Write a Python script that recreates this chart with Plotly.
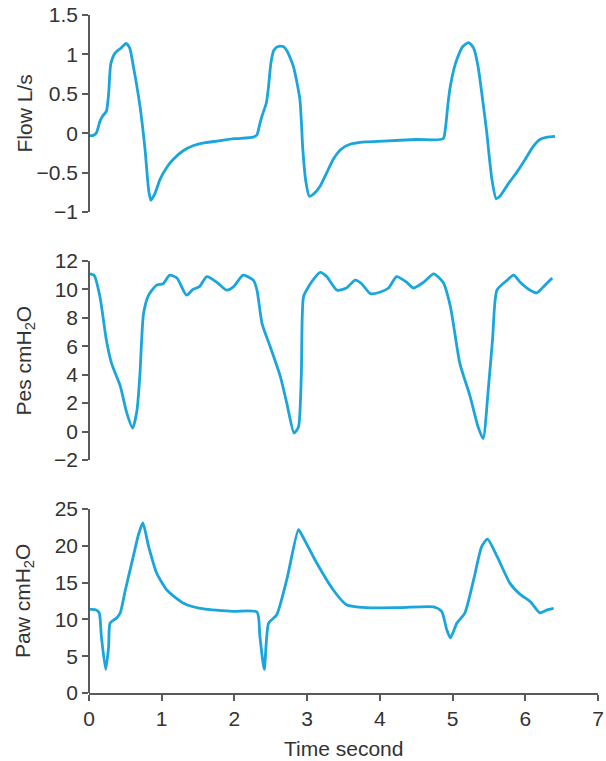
import plotly.graph_objects as go

# ---- data ----
flow_t = [0.00, 0.05, 0.10, 0.15, 0.19, 0.24, 0.27, 0.30, 0.36, 0.44, 0.51, 0.56, 0.61, 0.70, 0.77, 0.82, 0.85, 0.90,
          0.98, 1.08, 1.16, 1.30, 1.43, 1.60, 1.76, 2.00, 2.26, 2.31, 2.35, 2.38, 2.44, 2.47, 2.50, 2.54, 2.60, 2.67,
          2.72, 2.81, 2.90, 2.94, 2.98, 3.03, 3.09, 3.18, 3.27, 3.36, 3.47, 3.59, 3.80, 4.05, 4.50, 4.87, 4.90, 4.94,
          4.97, 5.02, 5.06, 5.14, 5.22, 5.29, 5.35, 5.41, 5.47, 5.54, 5.60, 5.65, 5.76, 5.88, 6.00, 6.10, 6.20, 6.30, 6.41]
flow_v = [-0.03, -0.03, 0.00, 0.15, 0.22, 0.28, 0.50, 0.88, 1.02, 1.08, 1.14, 1.08, 0.85, 0.35, -0.20, -0.72, -0.85, -0.78,
          -0.58, -0.42, -0.33, -0.22, -0.16, -0.12, -0.10, -0.07, -0.05, -0.02, 0.12, 0.22, 0.39, 0.60, 0.88, 1.05, 1.10, 1.10,
          1.05, 0.85, 0.43, -0.20, -0.60, -0.80, -0.77, -0.67, -0.50, -0.33, -0.20, -0.14, -0.11, -0.10, -0.08, -0.07, 0.05, 0.40,
          0.60, 0.82, 0.94, 1.10, 1.15, 1.08, 0.85, 0.45, 0.01, -0.58, -0.83, -0.80, -0.65, -0.50, -0.33, -0.18, -0.08, -0.05, -0.04]

pes_t = [0.00, 0.07, 0.15, 0.24, 0.31, 0.43, 0.52, 0.60, 0.66, 0.70, 0.75, 0.82, 0.93, 1.02, 1.11, 1.21, 1.34, 1.43, 1.52,
         1.62, 1.76, 1.89, 1.99, 2.12, 2.26, 2.31, 2.38, 2.49, 2.63, 2.72, 2.82, 2.88, 2.92, 2.95, 3.02, 3.10, 3.18, 3.27,
         3.41, 3.54, 3.66, 3.75, 3.87, 4.00, 4.12, 4.23, 4.37, 4.46, 4.60, 4.74, 4.87, 4.97, 5.10, 5.24, 5.35, 5.42, 5.49,
         5.55, 5.61, 5.75, 5.84, 5.93, 6.05, 6.16, 6.27, 6.37]
pes_v = [11.1, 11.0, 9.5, 6.4, 4.8, 3.2, 1.3, 0.25, 1.5, 4.0, 8.3, 9.6, 10.3, 10.4, 11.0, 10.8, 9.6, 10.0, 10.2,
         10.9, 10.5, 9.95, 10.2, 11.0, 10.65, 9.95, 7.6, 6.0, 3.9, 2.0, -0.1, 0.3, 4.0, 9.5, 10.2, 10.8, 11.2, 10.9,
         9.95, 10.1, 10.65, 10.4, 9.7, 9.8, 10.1, 10.9, 10.5, 10.1, 10.5, 11.1, 10.5, 8.8, 4.8, 2.5, 0.35, -0.5, 2.9,
         6.5, 9.95, 10.65, 11.0, 10.5, 10.0, 9.76, 10.3, 10.8]

paw_t = [0.00, 0.09, 0.14, 0.17, 0.23, 0.27, 0.29, 0.38, 0.43, 0.50, 0.61, 0.68, 0.74, 0.82, 0.93, 1.07, 1.30, 1.53, 1.98,
         2.31, 2.35, 2.41, 2.47, 2.58, 2.72, 2.88, 2.92, 3.13, 3.36, 3.54, 3.82, 4.28, 4.74, 4.85, 4.92, 4.97, 5.06, 5.17,
         5.29, 5.40, 5.48, 5.61, 5.79, 5.93, 6.07, 6.20, 6.30, 6.39]
paw_v = [11.4, 11.3, 10.9, 7.7, 3.2, 6.3, 9.5, 10.2, 10.9, 14.0, 18.6, 21.5, 23.1, 19.9, 16.3, 14.0, 12.2, 11.5, 11.1,
         11.0, 7.7, 3.2, 9.5, 10.6, 15.4, 22.2, 21.6, 17.7, 14.0, 12.0, 11.6, 11.6, 11.7, 11.1, 8.6, 7.5, 9.5, 10.9,
         15.4, 19.9, 20.9, 18.6, 14.9, 13.4, 12.4, 10.9, 11.3, 11.5]

x_ticks = [0, 1, 2, 3, 4, 5, 6, 7]
flow_ticks = [-1, -0.5, 0, 0.5, 1, 1.5]
flow_tick_text = ["\u22121", "\u22120.5", "0", "0.5", "1", "1.5"]
pes_ticks = [-2, 0, 2, 4, 6, 8, 10, 12]
paw_ticks = [0, 5, 10, 15, 20, 25]

titles = ["Flow L/s", "Pes cmH<sub>2</sub>O", "Paw cmH<sub>2</sub>O"]
x_title = "Time second"

# ---- styling ----
LINE = "#1aa5dc"
AX = "#5a5a5a"
TXT = "#333333"
FONT = "Liberation Sans, Arial, sans-serif"
FS = 21

fig = go.Figure()
fig.add_trace(go.Scatter(x=flow_t, y=flow_v, mode="lines", xaxis="x", yaxis="y",
                         line=dict(color=LINE, width=2.8, shape="spline", smoothing=0.6), showlegend=False))
fig.add_trace(go.Scatter(x=pes_t, y=pes_v, mode="lines", xaxis="x2", yaxis="y2",
                         line=dict(color=LINE, width=2.8, shape="spline", smoothing=0.6), showlegend=False))
fig.add_trace(go.Scatter(x=paw_t, y=paw_v, mode="lines", xaxis="x3", yaxis="y3",
                         line=dict(color=LINE, width=2.8, shape="spline", smoothing=0.6), showlegend=False))

H = 761 - 15 - 68
dom_top = [(693 - 212) / H, 1.0]
dom_mid = [(693 - 460) / H, (693 - 261) / H]
dom_bot = [0.0, (693 - 509) / H]

yax_common = dict(showgrid=False, zeroline=False, showline=True, linecolor=AX, linewidth=1.5,
                  ticks="outside", ticklen=6, tickwidth=1.5, tickcolor=AX,
                  tickfont=dict(family=FONT, size=FS, color=TXT), anchor="free", position=0)
hidden_x = dict(visible=False, range=[0, 7], domain=[0, 1])

fig.update_layout(
    width=606, height=761,
    margin=dict(l=89, r=8, t=15, b=68, autoexpand=False),
    paper_bgcolor="white", plot_bgcolor="white",
    font=dict(family=FONT, size=FS, color=TXT),
    xaxis=dict(hidden_x, anchor="y"),
    xaxis2=dict(hidden_x, anchor="y2"),
    xaxis3=dict(range=[0, 7], domain=[0, 1], anchor="y3", showgrid=False, zeroline=False,
                showline=True, linecolor=AX, linewidth=1.5, ticks="outside", ticklen=6,
                tickwidth=1.5, tickcolor=AX, tickvals=x_ticks,
                tickfont=dict(family=FONT, size=FS, color=TXT)),
    yaxis=dict(yax_common, domain=dom_top, range=[-1, 1.5], tickvals=flow_ticks, ticktext=flow_tick_text),
    yaxis2=dict(yax_common, domain=dom_mid, range=[-2, 12], tickvals=pes_ticks),
    yaxis3=dict(yax_common, domain=dom_bot, range=[0, 25], tickvals=paw_ticks),
)

centers = [(dom_top[0] + dom_top[1]) / 2, (dom_mid[0] + dom_mid[1]) / 2, (dom_bot[0] + dom_bot[1]) / 2]
for t, cy in zip(titles, centers):
    fig.add_annotation(text=t, xref="paper", yref="paper", x=(24 - 89) / 509, y=cy,
                       textangle=-90, showarrow=False, xanchor="center", yanchor="middle",
                       font=dict(family=FONT, size=FS, color=TXT))
fig.add_annotation(text=x_title, xref="paper", yref="paper", x=0.5, y=(693 - 748) / H,
                   showarrow=False, xanchor="center", yanchor="middle",
                   font=dict(family=FONT, size=FS, color=TXT))

fig.write_html("out.html", config={"displayModeBar": False},
               post_script="document.body.style.margin='0';document.body.style.overflow='hidden';")
